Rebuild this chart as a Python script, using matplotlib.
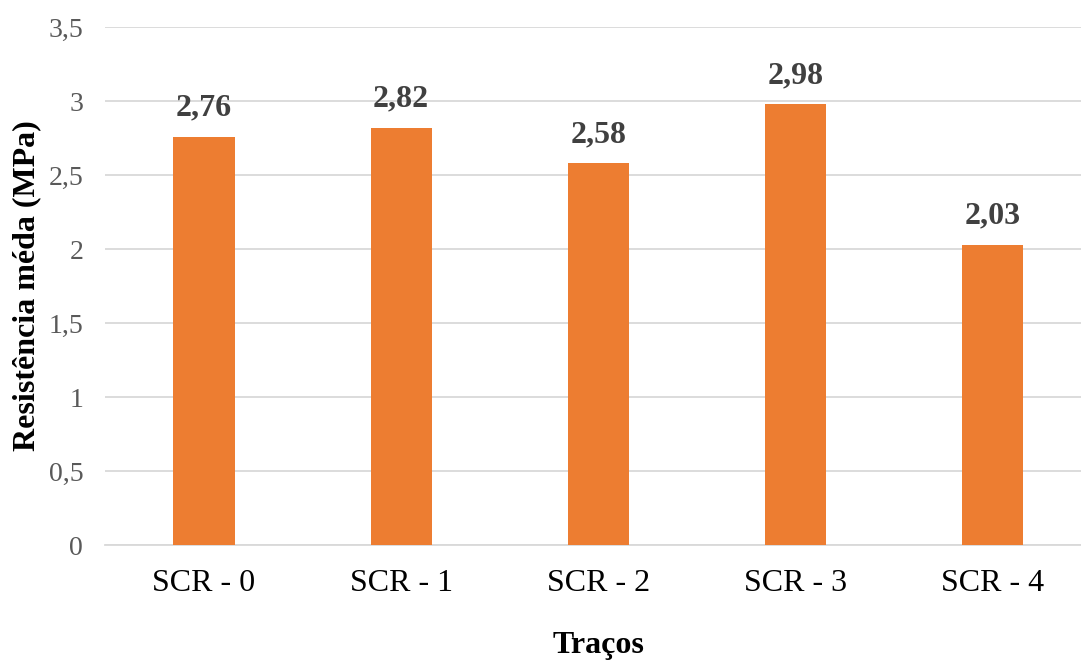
import matplotlib.pyplot as plt

# dados do gráfico
tracos = ['SCR - 0', 'SCR - 1', 'SCR - 2', 'SCR - 3', 'SCR - 4']
resistencia = [2.76, 2.82, 2.58, 2.98, 2.03]
yticks = [0, 0.5, 1, 1.5, 2, 2.5, 3, 3.5]

plt.rcParams['font.family'] = ['Liberation Serif', 'DejaVu Serif']

fig = plt.figure(figsize=(10.81, 6.6), dpi=100)
ax = fig.add_axes([0.0975, 0.174, 0.912, 0.785])

x = range(len(tracos))
ax.bar(x, resistencia, width=0.31, color='#ED7D31', zorder=3)

# rótulos de dados
for xi, v in zip(x, resistencia):
    ax.annotate(f'{v:.2f}'.replace('.', ','), (xi, v), xytext=(0, 10),
                textcoords='offset points', ha='center', va='bottom',
                fontsize=23, fontweight='bold', color='#404040')

ax.set_xlim(-0.5, len(tracos) - 0.5)
ax.set_ylim(0, 3.5)
ax.set_yticks(yticks)
ax.set_yticklabels([f'{t:g}'.replace('.', ',') for t in yticks])
ax.set_xticks(list(x))
ax.set_xticklabels(tracos)

ax.grid(axis='y', color='#d9d9d9', linewidth=1.3, zorder=0)
for s in ['top', 'right', 'left']:
    ax.spines[s].set_visible(False)
ax.spines['bottom'].set_color('#d9d9d9')
ax.spines['bottom'].set_linewidth(1.3)
ax.tick_params(axis='both', length=0)
ax.tick_params(axis='x', labelsize=23, labelcolor='black', pad=17)
ax.tick_params(axis='y', labelsize=20, labelcolor='#595959', pad=16)

ax.set_xlabel('Traços', fontsize=23, fontweight='bold', labelpad=24)
ax.set_ylabel('Resistência méda (MPa)', fontsize=23, fontweight='bold', labelpad=5)

fig.savefig('out.png', dpi=100)
